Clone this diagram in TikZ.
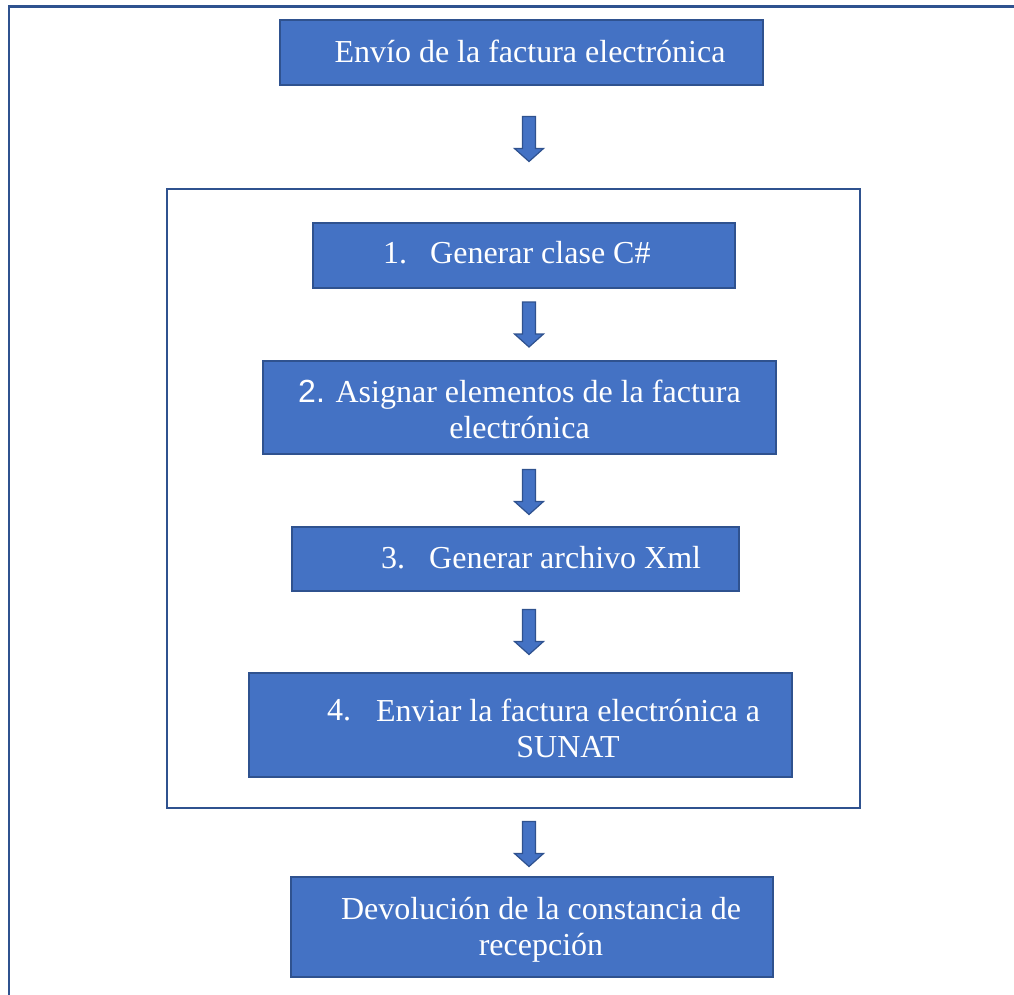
\documentclass[tikz,border=0pt]{standalone}
\usepackage{fontspec}
\setmainfont{Liberation Serif}
\newfontfamily\arialfont{Liberation Sans}
\usetikzlibrary{calc}

\begin{document}
\begin{tikzpicture}[x=1pt,y=1pt,yscale=-1,
    caja/.style={draw={rgb, 255:red, 47; green, 82; blue, 143 },line width=1.5,fill={rgb, 255:red, 68; green, 114; blue, 196 },anchor=north west,inner sep=0pt,outer sep=0pt},
    marcobox/.style={draw={rgb, 255:red, 47; green, 82; blue, 143 },line width=1.5,anchor=north west,inner sep=0pt,outer sep=0pt},
    texto/.style={text=white,font=\fontsize{32}{36}\selectfont,inner sep=0pt,align=center},
    flecha/.pic={
        \draw [draw={rgb, 255:red, 47; green, 82; blue, 143 },fill={rgb, 255:red, 68; green, 114; blue, 196 },line width=1.2] (-6.5,22.5) -- (6.5,22.5) -- (6.5,-9.5) -- (14.5,-9.5) -- (0,-22.5) -- (-14.5,-9.5) -- (-6.5,-9.5) -- cycle ;
    }]
    \useasboundingbox (0,0) rectangle (1014,994);

    %Shape: Outer frame (cut by the page)
    \draw [draw={rgb, 255:red, 47; green, 82; blue, 143 },line width=2.5]  (1020,6.5) -- (9,6.5) -- (9,1000) ;

    %Shape: Rectangle
    \node [caja,minimum width=483,minimum height=65] (envio) at (280,20) {};
    %Shape: Rectangle (inner frame)
    \node [marcobox,minimum width=693,minimum height=619] (marco) at (167,189) {};
    %Shape: Rectangle
    \node [caja,minimum width=422,minimum height=65] (paso1) at (313,223) {};
    %Shape: Rectangle
    \node [caja,minimum width=513,minimum height=93] (paso2) at (263,361) {};
    %Shape: Rectangle
    \node [caja,minimum width=447,minimum height=64] (paso3) at (292,527) {};
    %Shape: Rectangle
    \node [caja,minimum width=543,minimum height=104] (paso4) at (249,673) {};
    %Shape: Rectangle
    \node [caja,minimum width=482,minimum height=100] (devol) at (291,877) {};

    %Block arrows
    \coordinate (eje) at (529,0);
    \coordinate (m1) at ($(envio.south)!0.5!(marco.north)$);
    \coordinate (m2) at ($(paso1.south)!0.5!(paso2.north)$);
    \coordinate (m3) at ($(paso2.south)!0.5!(paso3.north)$);
    \coordinate (m4) at ($(paso3.south)!0.5!(paso4.north)$);
    \coordinate (m5) at ($(marco.south)!0.5!(devol.north)$);
    \pic (f1) at ($(eje |- m1)+(0,2)$) {flecha};
    \pic (f2) at (eje |- m2) {flecha};
    \pic (f3) at ($(eje |- m3)+(0,1.5)$) {flecha};
    \pic (f4) at (eje |- m4) {flecha};
    \pic (f5) at ($(eje |- m5)+(0,1.5)$) {flecha};

    % Text Node
    \node [texto,anchor=base] (t0) at (530,62) {Envío de la factura electrónica};
    % Text Node
    \node [texto,anchor=base west] (n1) at (383,263) {1.};
    \node [texto,anchor=base west] (t1) at (430,263) {Generar clase C\#};
    % Text Node
    \node [texto,anchor=base] (t2) at (519.5,438) {{\arialfont 2.} Asignar elementos de la factura\\electrónica};
    % Text Node
    \node [texto,anchor=base west] (n3) at (381,568) {3.};
    \node [texto,anchor=base west] (t3) at (429,568) {Generar archivo Xml};
    % Text Node
    \node [texto,anchor=base west] (n4) at (327,720) {4.};
    \node [texto,anchor=base] (t4) at (568,757) {Enviar la factura electrónica a\\SUNAT};
    % Text Node
    \node [texto,anchor=base] (t5) at (541,955) {Devolución de la constancia de\\recepción};

\end{tikzpicture}
\end{document}
